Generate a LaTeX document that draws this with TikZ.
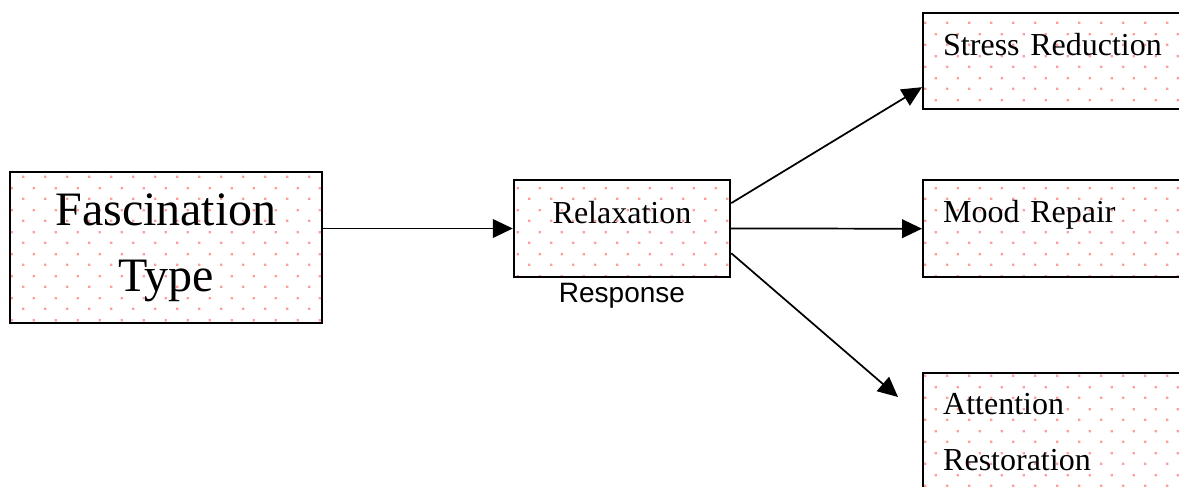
\documentclass[tikz,border=0pt]{standalone}
\usepackage{fontspec}
\setmainfont{Liberation Serif}
\setsansfont{Liberation Sans}
\usepackage{xcolor}
\usepackage{tikz}
\usetikzlibrary{arrows.meta,positioning,calc,patterns.meta}
\definecolor{dotpink}{HTML}{FF9C9C}
\definecolor{edge}{HTML}{000000}
\tikzdeclarepattern{
  name=pinkdots, type=colored,
  bottom left={(0pt,0pt)}, top right={(16.5pt,16.5pt)},
  tile size={(16.5pt,16.5pt)},
  code={
    \fill[dotpink] (0pt,0pt) rectangle (1.8pt,1.8pt);
    \fill[dotpink] (8.25pt,8.25pt) rectangle (10.05pt,10.05pt);
  }
}
\tikzset{
  dotbox/.style={draw=edge, line width=1.8pt, pattern=pinkdots, inner sep=0pt},
  cause/.style={dotbox, minimum width=234pt, minimum height=113.25pt, align=center,
                font=\fontsize{36}{49.5}\selectfont},
  middle/.style={dotbox, minimum width=162pt, text height=32.25pt, text depth=40.5pt,
                 font=\fontsize{24}{30}\selectfont},
  outcome/.style={dotbox, anchor=north west, inner xsep=15pt, text width=178.5pt,
                  align=left, font=\fontsize{24}{42}\selectfont},
  caption/.style={font=\sffamily\fontsize{21}{25}\selectfont, inner sep=0pt},
  flow/.style={-{Triangle[length=15pt,width=14pt]}, line width=1.3pt, draw=edge}
}

\begin{document}
\begin{tikzpicture}[x=0.75pt,y=-0.75pt]
  \useasboundingbox (0,0) rectangle (1179,486);
  \clip (0,0) rectangle (1179,486);

  % boxes
  \node[cause] (fasc) at (166,247.5) {Fascination\\Type};
  \node[middle] (relax) at (622,228.5) {Relaxation};
  \node[caption, anchor=base] (resp) at ([yshift=-18pt]relax.south) {Response};

  \node[outcome, text height=31.5pt, text depth=40.5pt] (stress) at (922,12) {Stress Reduction};
  \node[outcome, text height=31.5pt, text depth=41.25pt] (mood) at (922,179) {Mood Repair};
  \node[outcome, text height=30.75pt, text depth=72.75pt] (attn) at (922,372) {Attention\\Restoration};
  \coordinate (attnin) at ($(attn.north west)+(-24,25)$);

  % arrows
  \draw[flow] (fasc.east |- relax) -- (relax.west);
  \draw[flow] ([yshift=19pt]relax.east) -- ([yshift=-19.5pt]stress.west);
  \draw[flow] (relax.east) -- (mood.west);
  \draw[flow] ([yshift=-18.5pt]relax.east) -- (attnin);
\end{tikzpicture}
\end{document}
